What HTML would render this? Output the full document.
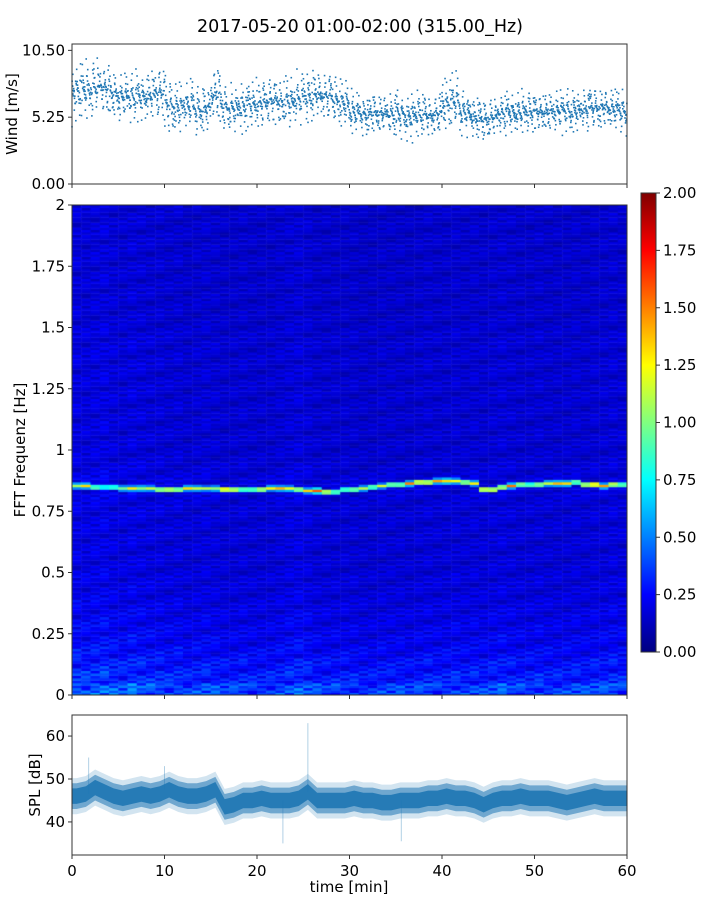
<!DOCTYPE html>
<html><head><meta charset="utf-8">
<style>
body{margin:0;background:#fff;font-family:"DejaVu Sans",sans-serif;}
#wrap{position:relative;width:720px;height:900px;}
svg{position:absolute;left:0;top:0;}
canvas{position:absolute;left:72px;top:205px;}
</style></head><body>
<div id="wrap">
<canvas id="spec" width="555" height="490"></canvas>
<svg id="svg" width="720" height="900"></svg>
</div>
<script>
// ---- data ----
const windMean=[7.3,7.4,7.6,7.6,7.0,6.8,6.8,6.9,7.0,7.2,6.2,6.0,6.1,5.9,6.0,7.0,6.0,5.9,6.1,6.3,6.4,6.5,6.3,6.4,6.7,6.9,7.0,6.9,6.5,6.3,5.6,5.5,5.6,5.5,5.4,5.5,5.3,5.4,5.4,5.5,6.2,6.4,5.6,5.3,5.1,5.2,5.5,5.6,5.6,5.7,5.7,5.6,5.7,5.7,5.8,5.9,6.0,6.0,5.8,5.7];
const windSpread=[2.8,2.8,2.9,2.6,2.3,2.3,2.3,2.3,2.4,2.6,3.0,2.5,2.3,2.4,2.4,2.8,2.3,2.3,2.3,2.4,2.4,2.4,2.4,2.4,2.4,2.5,2.5,2.4,2.3,2.3,2.0,2.0,2.0,2.0,2.1,2.1,2.3,2.3,2.1,2.1,2.7,2.7,2.1,2.1,2.1,2.0,2.0,2.0,2.0,2.0,2.0,2.0,2.0,2.0,2.0,2.1,2.1,2.0,2.0,2.0];
const splMean=[46,46.5,48,47,46,45.5,46,46.5,46,46.5,47.5,46.5,46,46,46.5,47.5,43.5,44,45,45,45.5,45,45,45,45.5,47,45,45,45,45,45.5,45,45,44.5,44.5,45,45,45,45.5,45.5,46,45.5,45.5,45,44,45,45.5,45.5,46,45.5,45.5,45.5,45,44.5,45,45.5,46,45.5,45.5,45.5];
const splSpikeT=[1.8,10,25.5,22.8,35.6];
const splSpikeV=[55,53,63,35,35.5];
const freqProfile=[0.38,0.3,0.27,0.24,0.22,0.21,0.2,0.19,0.18,0.18,0.17,0.17,0.17,0.17,0.17,0.17,0.18,0.18,0.17,0.16,0.16,0.16,0.16,0.16,0.16,0.16,0.16,0.16,0.16,0.16,0.15,0.15,0.15,0.15,0.15,0.15,0.15,0.15,0.15,0.15];
const rowTexture=[1.0,0.7,1.2,0.9,0.6,1.1,1.3,0.8,1.0,0.65,1.15,0.9,1.25,0.75,1.0,0.85,1.2,0.6,1.05,0.95];
const colFactor=[1.2,1.15,1.2,1.25,1.15,1.1,1.2,1.15,1.1,1.1,1.05,1.1,1.0,1.05,1.1,1.05,1.0,1.0,1.05,1.0,1.0,1.0,1.05,1.1,1.15,1.1,1.0,1.0,1.0,1.0,1.0,0.95,0.95,1.0,1.0,1.0,0.95,1.0,1.05,1.0,1.0,1.05,1.0,1.05,1.0,1.05,1.1,1.05,1.0,1.0,1.05,1.0,1.0,1.0,1.05,1.0,1.05,1.05,1.1,1.05];
const peakFreq=[0.855,0.855,0.85,0.85,0.85,0.845,0.845,0.845,0.845,0.84,0.84,0.84,0.845,0.845,0.845,0.845,0.84,0.84,0.84,0.84,0.84,0.845,0.845,0.845,0.84,0.835,0.835,0.83,0.83,0.84,0.84,0.845,0.85,0.855,0.86,0.86,0.865,0.87,0.87,0.875,0.875,0.875,0.87,0.865,0.84,0.84,0.85,0.855,0.86,0.86,0.86,0.865,0.865,0.865,0.87,0.86,0.86,0.855,0.86,0.86];
const peakAmp=[0.9,1.1,1.0,0.9,0.9,0.8,1.0,0.9,0.9,1.2,1.3,1.2,1.2,1.0,0.9,0.9,1.5,1.3,1.0,1.0,1.3,1.1,1.2,1.1,1.2,1.1,1.4,1.3,1.0,1.0,1.1,1.0,1.1,1.0,1.2,1.1,1.3,1.4,1.3,1.2,1.2,1.0,1.2,1.1,1.4,1.3,1.2,1.3,1.1,1.0,1.1,1.0,1.2,1.2,1.1,1.3,1.5,1.2,1.3,1.0];
const xTicks=[0,10,20,30,40,50,60];
const windTicks=[0,5.25,10.5];
const freqTicks=[0,0.25,0.5,0.75,1,1.25,1.5,1.75,2];
const freqTickLabels=["0","0.25","0.5","0.75","1","1.25","1.5","1.75","2"];
const splTicks=[40,50,60];
const cbTicks=[0,0.25,0.5,0.75,1,1.25,1.5,1.75,2];

// ---- scales ----
const X0=72,X1=627;
const xs=t=>X0+(t/60)*(X1-X0);
const wy=v=>184-(v/11)*140;
const fy=f=>695-(f/2)*490;
const sy=v=>855-(v-32.3)/(64.9-32.3)*140;
const cy=v=>652-(v/2)*459;

function jet(v){v=Math.max(0,Math.min(1,v));
 const r=Math.max(0,Math.min(1,1.5-Math.abs(4*v-3)));
 const g=Math.max(0,Math.min(1,1.5-Math.abs(4*v-2)));
 const b=Math.max(0,Math.min(1,1.5-Math.abs(4*v-1)));
 return `rgb(${Math.round(r*255)},${Math.round(g*255)},${Math.round(b*255)})`;}

// ---- heatmap ----
const ctx=document.getElementById('spec').getContext('2d');
const nRows=200,df=2/nRows;
for(let c=0;c<60;c++){
 for(let r=0;r<nRows;r++){
  const f=(r+0.5)*df;
  let v=freqProfile[Math.floor(f/0.05)]*colFactor[c]*rowTexture[(r*7+c*3)%rowTexture.length];
  const d=Math.abs(f-peakFreq[c]);
  if(d<0.015)v+=peakAmp[c]*Math.max(0,1-d/0.015);
  ctx.fillStyle=jet(v/2);
  const x0=xs(c)-X0,x1=xs(c+1)-X0;
  ctx.fillRect(x0,fy(f+df/2)-205,x1-x0+0.5,490/nRows+0.5);
 }
}

// ---- svg ----
const svg=document.getElementById('svg');const NS='http://www.w3.org/2000/svg';
function el(tag,attrs,parent){const e=document.createElementNS(NS,tag);for(const k in attrs)e.setAttribute(k,attrs[k]);(parent||svg).appendChild(e);return e;}
function txt(s,x,y,anchor,size,parent,rot){const t=el('text',{x:x,y:y,'text-anchor':anchor,'font-size':size,fill:'#000','font-family':'DejaVu Sans, sans-serif'},parent);if(rot)t.setAttribute('transform',`rotate(-90 ${x} ${y})`);t.textContent=s;return t;}

const title=txt('2017-05-20 01:00-02:00 (315.00_Hz)',360,32,'middle',17.5);


// wind panel
const gw=el('g',{});
const N=40;
for(let i=0;i<60;i++){for(let k=0;k<N;k++){
 const a=((k*0.618034+i*0.377)%1);
 const b=((k*0.754878+i*0.569840)%1);
 const t=i+a;
 const off=(b*2-1)*Math.abs(((k*0.41421+i*0.2)%1)*2-1);
 const v=windMean[i]+windSpread[i]*off;
 const p=el('rect',{x:xs(t)-0.8,y:wy(v)-0.8,width:1.6,height:1.6,fill:'#1f77b4'},gw);
 
}}
el('rect',{x:72,y:44,width:555,height:140,fill:'none',stroke:'#333','stroke-width':1},gw);
windTicks.forEach(v=>{el('line',{x1:68,x2:72,y1:wy(v),y2:wy(v),stroke:'#333'},gw);txt(v.toFixed(2),65,wy(v)+5,'end',15,gw);});
xTicks.forEach(t=>el('line',{x1:xs(t),x2:xs(t),y1:184,y2:188,stroke:'#333'},gw));
const wl=txt('Wind [m/s]',17,114,'middle',15,gw,true);

// spectrogram axes
const gs=el('g',{});
el('rect',{x:72,y:205,width:555,height:490,fill:'none',stroke:'#333'},gs);
freqTicks.forEach((f,i)=>{el('line',{x1:68,x2:72,y1:fy(f),y2:fy(f),stroke:'#333'},gs);txt(freqTickLabels[i],65,fy(f)+5,'end',15,gs);});
xTicks.forEach(t=>el('line',{x1:xs(t),x2:xs(t),y1:695,y2:699,stroke:'#333'},gs));
const fl=txt('FFT Frequenz [Hz]',25,450,'middle',15,gs,true);

// colorbar
const gc=el('g',{});
const defs=el('defs',{});const lg=el('linearGradient',{id:'jetg',x1:0,y1:1,x2:0,y2:0},defs);
for(let i=0;i<=16;i++)el('stop',{offset:i/16,'stop-color':jet(i/16)},lg);
el('rect',{x:641,y:193,width:15,height:459,fill:'url(#jetg)',stroke:'#333'},gc);
cbTicks.forEach(v=>{el('line',{x1:656,x2:660,y1:cy(v),y2:cy(v),stroke:'#333'},gc);txt(v.toFixed(2),663,cy(v)+5,'start',15,gc);});

// SPL panel
const gp=el('g',{});
function band(w,op,name){let up='M'+xs(0)+','+sy(splMean[0]+w),dn='';
 for(let i=0;i<60;i++){up+='L'+xs(i+0.5)+','+sy(splMean[i]+w);}
 up+='L'+xs(60)+','+sy(splMean[59]+w)+'L'+xs(60)+','+sy(splMean[59]-w);
 for(let i=59;i>=0;i--){dn+='L'+xs(i+0.5)+','+sy(splMean[i]-w);}
 dn+='L'+xs(0)+','+sy(splMean[0]-w);
 const p=el('path',{d:up+dn+'Z',fill:'#1f77b4','fill-opacity':op},gp);}
band(4.2,0.2,'spl-outer-band');band(3,0.55,'spl-mid-band');band(1.8,0.9,'spl-core-band');
for(let i=0;i<splSpikeT.length;i++){const m=splMean[Math.min(59,Math.floor(splSpikeT[i]))];
 const l=el('line',{x1:xs(splSpikeT[i]),x2:xs(splSpikeT[i]),y1:sy(m),y2:sy(splSpikeV[i]),stroke:'#1f77b4','stroke-opacity':0.35,'stroke-width':1},gp);
 }
el('rect',{x:72,y:715,width:555,height:140,fill:'none',stroke:'#333'},gp);
splTicks.forEach(v=>{el('line',{x1:68,x2:72,y1:sy(v),y2:sy(v),stroke:'#333'},gp);txt(String(v),65,sy(v)+5,'end',15,gp);});
xTicks.forEach(t=>{el('line',{x1:xs(t),x2:xs(t),y1:855,y2:859,stroke:'#333'},gp);txt(String(t),xs(t),876,'middle',15,gp);});
const sl=txt('SPL [dB]',40,785,'middle',15,gp,true);
const xl=txt('time [min]',349,892,'middle',15,gp);
</script>
</body></html>
